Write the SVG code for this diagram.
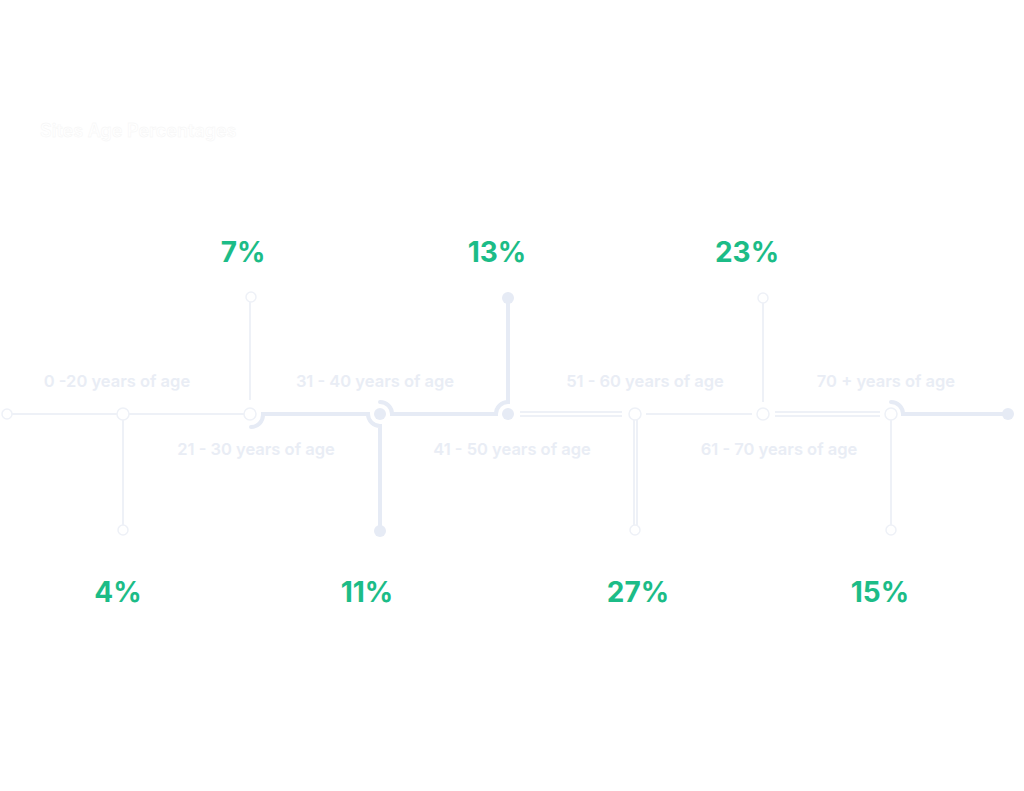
<svg xmlns="http://www.w3.org/2000/svg" width="1024" height="791" viewBox="0 0 1024 791">
<style>
.lbl{font-family:Inter,"Open Sans",sans-serif;font-weight:600;font-size:16.5px;fill:#e9edf5;text-anchor:middle}
.pct{font-family:Inter,"Open Sans",sans-serif;font-weight:700;font-size:28px;fill:#1cbc87;text-anchor:middle}
.thick{stroke:#e6ebf5;stroke-width:4;fill:none;stroke-linecap:round}
.thin{stroke:#eef1f7;stroke-width:2;fill:none}
.dotA{fill:#e6ebf5}
.dotB{fill:#ffffff;stroke:#eef1f7;stroke-width:1.5}
</style>
<rect width="1024" height="791" fill="#ffffff"/>
<text x="40" y="137" font-family="Inter,'Open Sans',sans-serif" font-weight="600" font-size="18" fill="#ffffff" stroke="#f4f4f4" stroke-width="0.4">Sites Age Percentages</text>
<g id="connectors">
<path class="thin" d="M5 414 H245"/>
<path class="thin" d="M123 414 V530"/>
<path class="thin" d="M250 297 V400"/>
<path class="thick" d="M251 427 a12 12 0 0 0 12 -12 V414 H368 a12 12 0 0 0 12 12 V530"/>
<path class="thick" d="M380 402 a12 12 0 0 1 12 12 H496 a12 12 0 0 1 12 -12 V297"/>
<path class="thin" d="M520 412 H622 M520 416 H622"/>
<path class="thin" d="M634 414 V530 M637 414 V530"/>
<path class="thin" d="M646 414 H752"/>
<path class="thin" d="M763 297 V402"/>
<path class="thin" d="M775 412 H880 M775 416 H880"/>
<path class="thin" d="M891 414 V530"/>
<path class="thick" d="M891 402 a12 12 0 0 1 12 12 H1008"/>
</g>
<g id="n0"><circle class="dotB" cx="7" cy="414" r="5"/><text class="lbl" x="117" y="387">0 -20 years of age</text></g>
<g id="n1"><circle class="dotB" cx="123" cy="414" r="6"/><circle class="dotB" cx="123" cy="530" r="5"/><text class="pct" x="118" y="602">4%</text></g>
<g id="n2"><circle class="dotB" cx="250" cy="414" r="6"/><circle class="dotB" cx="251" cy="297" r="5"/><text class="pct" x="243" y="262">7%</text><text class="lbl" x="256" y="455">21 - 30 years of age</text></g>
<g id="n3"><circle class="dotA" cx="380" cy="414" r="6"/><circle class="dotA" cx="380" cy="531" r="6"/><text class="pct" x="367" y="602">11%</text><text class="lbl" x="375" y="387">31 - 40 years of age</text></g>
<g id="n4"><circle class="dotA" cx="508" cy="414" r="6"/><circle class="dotA" cx="508" cy="298" r="6"/><text class="pct" x="497" y="262">13%</text><text class="lbl" x="512" y="455">41 - 50  years of age</text></g>
<g id="n5"><circle class="dotB" cx="635" cy="414" r="6"/><circle class="dotB" cx="635" cy="530" r="5"/><text class="pct" x="638" y="602">27%</text><text class="lbl" x="645" y="387">51 - 60 years of age</text></g>
<g id="n6"><circle class="dotB" cx="763" cy="414" r="6"/><circle class="dotB" cx="763" cy="298" r="5"/><text class="pct" x="747" y="262">23%</text><text class="lbl" x="779" y="455">61 - 70 years of age</text></g>
<g id="n7"><circle class="dotB" cx="891" cy="414" r="6"/><circle class="dotB" cx="891" cy="530" r="5"/><text class="pct" x="880" y="602">15%</text><text class="lbl" x="886" y="387">70 + years of age</text></g>
<g id="n8"><circle class="dotA" cx="1008" cy="414" r="6"/></g>
</svg>
